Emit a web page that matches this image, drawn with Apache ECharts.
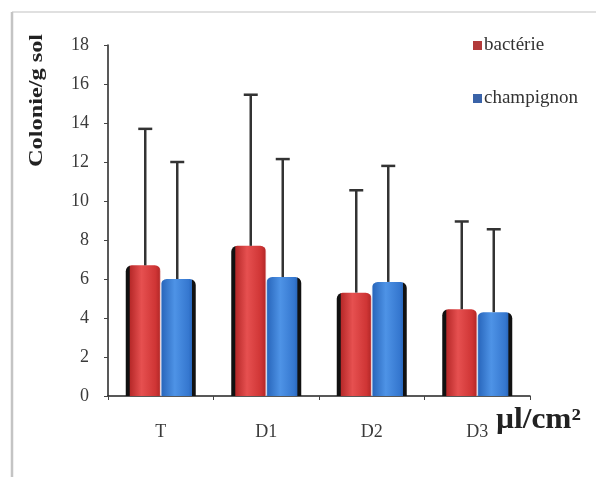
<!DOCTYPE html>
<html>
<head>
<meta charset="utf-8">
<script src="https://cdn.jsdelivr.net/npm/echarts@6/dist/echarts.min.js"></script>
<style>
  html, body { margin: 0; padding: 0; background: #fff; }
  #chart { width: 596px; height: 477px; }
</style>
</head>
<body>
<div id="chart"></div>
<script>
// Treatments (doses) along the x axis
const categories = ['T', 'D1', 'D2', 'D3'];
// Mean colony counts per gram of soil
const bacterie = [6.7, 7.7, 5.3, 4.45];
const champignon = [6.0, 6.1, 5.85, 4.3];
// Upper end of each error bar
const bacterieHigh = [13.7, 15.45, 10.55, 8.95];
const champignonHigh = [12.0, 12.15, 11.8, 8.55];
// Y axis ticks
const yTicks = [0, 2, 4, 6, 8, 10, 12, 14, 16, 18];

const BAR_W = 35;

function cylinder(edge, dark, main, light, leftEdge) {
  const stops = leftEdge
    ? [{offset: 0, color: edge}, {offset: 0.1, color: edge}, {offset: 0.13, color: dark},
       {offset: 0.45, color: light}, {offset: 0.85, color: main}, {offset: 0.96, color: dark}, {offset: 1, color: '#f4d8d8'}]
    : [{offset: 0, color: '#dbe8f8'}, {offset: 0.04, color: dark}, {offset: 0.4, color: light},
       {offset: 0.8, color: main}, {offset: 0.88, color: dark}, {offset: 0.9, color: edge}, {offset: 1, color: edge}];
  return {type: 'linear', x: 0, y: 0, x2: 1, y2: 0, colorStops: stops};
}

function errorBars(high, offset) {
  return {
    type: 'custom',
    z: 5,
    data: high.map((h, i) => [i, h]),
    renderItem: function (params, api) {
      const i = api.value(0);
      const lo = (offset < 0 ? bacterie : champignon)[i];
      const top = api.coord([i, api.value(1)]);
      const bottom = api.coord([i, lo]);
      const x = top[0] + offset;
      const cap = 7;
      const style = {stroke: '#333', lineWidth: 2.5};
      return {
        type: 'group',
        children: [
          {type: 'line', shape: {x1: x, y1: bottom[1], x2: x, y2: top[1]}, style: style},
          {type: 'line', shape: {x1: x - cap, y1: top[1], x2: x + cap, y2: top[1]}, style: style}
        ]
      };
    }
  };
}

const chart = echarts.init(document.getElementById('chart'), null, {renderer: 'canvas'});
const serif = '"Liberation Serif", "DejaVu Serif", serif';

chart.setOption({
  backgroundColor: '#fff',
  animation: false,
  grid: {left: 108, right: 66, top: 45, bottom: 81},
  legend: {
    orient: 'vertical',
    left: 468,
    top: 31,
    itemGap: 34,
    itemWidth: 9,
    itemHeight: 9,
    icon: 'rect',
    textStyle: {fontFamily: serif, fontSize: 19, color: '#333', padding: [0, 0, 0, -3]},
    data: [
      {name: 'bactérie', itemStyle: {color: '#b23a3a'}},
      {name: 'champignon', itemStyle: {color: '#3a63a8'}}
    ]
  },
  xAxis: {
    type: 'category',
    data: categories,
    axisLine: {lineStyle: {color: '#222', width: 1.5}},
    axisTick: {show: true, length: 4, lineStyle: {color: '#444'}},
    axisLabel: {fontFamily: serif, fontSize: 18, color: '#3a3a3a', margin: 27},
    splitLine: {show: false}
  },
  yAxis: {
    type: 'value',
    min: yTicks[0],
    max: yTicks[yTicks.length - 1],
    interval: 2,
    axisLine: {show: true, lineStyle: {color: '#222', width: 1.5}},
    axisTick: {show: true, length: 4, lineStyle: {color: '#444'}},
    axisLabel: {fontFamily: serif, fontSize: 18, color: '#3a3a3a', margin: 19},
    splitLine: {show: false}
  },
  series: [
    {
      name: 'bactérie',
      type: 'bar',
      barWidth: BAR_W,
      barGap: '0%',
      data: bacterie,
      itemStyle: {
        color: cylinder('#111', '#b82a2a', '#cf3535', '#e65050', true),
        borderRadius: [6, 6, 0, 0]
      }
    },
    {
      name: 'champignon',
      type: 'bar',
      barWidth: BAR_W,
      data: champignon,
      itemStyle: {
        color: cylinder('#111', '#2a68bd', '#3577cf', '#4e93e6', false),
        borderRadius: [6, 6, 0, 0]
      }
    },
    errorBars(bacterieHigh, -BAR_W / 2 + 2),
    errorBars(champignonHigh, BAR_W / 2 - 1)
  ],
  graphic: [
    {type: 'line', shape: {x1: 12, y1: 12, x2: 596, y2: 12}, style: {stroke: '#d6d6d6', lineWidth: 1.5}},
    {type: 'line', shape: {x1: 12, y1: 12, x2: 12, y2: 477}, style: {stroke: '#c4c4c4', lineWidth: 2.5}},
    {
      // y-axis title, reading bottom to top
      type: 'text', x: 28, y: 167, rotation: Math.PI / 2, scaleX: 1.28,
      style: {text: 'Colonie/g sol', fontFamily: serif, fontWeight: 'bold', fontSize: 19, fill: '#222',
              textAlign: 'left', textVerticalAlign: 'top'}
    },
    {
      type: 'text', x: 496, y: 406, scaleX: 1.08,
      style: {text: 'µl/cm²', fontFamily: serif, fontWeight: 'bold', fontSize: 29, fill: '#222',
              textAlign: 'left', textVerticalAlign: 'top'}
    }
  ]
});
</script>
</body>
</html>
